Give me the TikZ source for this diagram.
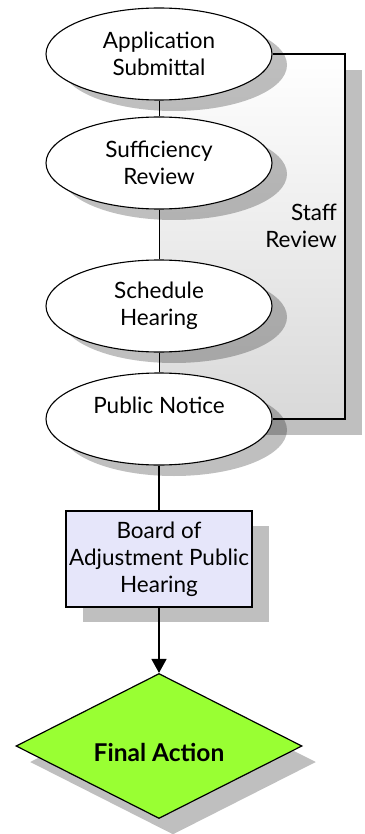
\documentclass[tikz,border=0pt]{standalone}
\usepackage{fontspec}
\setmainfont{Lato}
\usetikzlibrary{shapes.geometric,shadows,arrows.meta,backgrounds}

\definecolor{boardfill}{HTML}{E6E6FA}
\definecolor{actiongreen}{HTML}{99FF33}

\tikzset{
  shadowed/.style 2 args={drop shadow={shadow xshift=#1,shadow yshift=#2,fill=black,opacity=.25}},
  stage/.style={ellipse,draw,line width=1.1pt,fill=white,minimum width=226pt,minimum height=92pt,inner sep=0pt,align=center,shadowed={15pt}{-11pt}},
  board/.style={rectangle,draw,line width=1.5pt,fill=boardfill,minimum width=186pt,minimum height=96pt,inner sep=0pt,align=center,shadowed={17pt}{-15pt}},
  decision/.style={diamond,aspect=2,draw,line width=1.2pt,fill=actiongreen,minimum width=286pt,minimum height=145pt,inner sep=0pt,font=\fontsize{24.5}{28}\selectfont\bfseries,shadowed={14pt}{-16pt}},
  link/.style={line width=1pt},
  flow/.style={line width=1.6pt,-{Triangle[width=15pt,length=14pt]}},
  staffbox/.style={draw=none,top color=white,bottom color=gray!30,shadowed={17pt}{-16pt}},
  bracket/.style={line width=1.5pt}
}

\begin{document}
\begin{tikzpicture}[x=1pt,y=1pt,yscale=-1,font=\fontsize{22.5}{27}\selectfont]
    \useasboundingbox (0,0) rectangle (364,834);

    %Shape: Ellipse
    \node[stage] (app) at (159,54) {Application\\Submittal};
    %Shape: Ellipse
    \node[stage] (suff) at (159,163) {Sufficiency\\Review};
    %Shape: Ellipse
    \node[stage] (sched) at (159,306) {Schedule\\Hearing};
    %Shape: Ellipse
    \node[stage] (notice) at (159,419) {Public Notice\\\mbox{}};
    %Shape: Rectangle
    \node[board] (board) at (159,559) {Board of\\Adjustment Public\\Hearing};
    %Shape: Diamond
    \node[decision,text height=30pt,text depth=0pt] (final) at (159,746) {Final Action};

    %Straight Lines
    \draw[link] (app) -- (suff);
    \draw[link] (suff) -- (sched);
    \draw[link] (sched) -- (notice);
    \draw[link,line width=1.6pt] (notice) -- (board);
    \draw[flow] (board) -- (final);

    % Staff review bracket
    \coordinate (brR) at (345,0);
    \begin{pgfonlayer}{background}
      \path[staffbox] (app.center) rectangle (brR |- notice.center);
      \draw[bracket] (app.east) -- (brR |- app.east) -- (brR |- notice.east) -- (notice.east);
    \end{pgfonlayer}

    % Text Node
    \node[anchor=east,align=right,inner sep=0pt] (staff) at (337,226) {Staff\\Review};

\end{tikzpicture}
\end{document}
